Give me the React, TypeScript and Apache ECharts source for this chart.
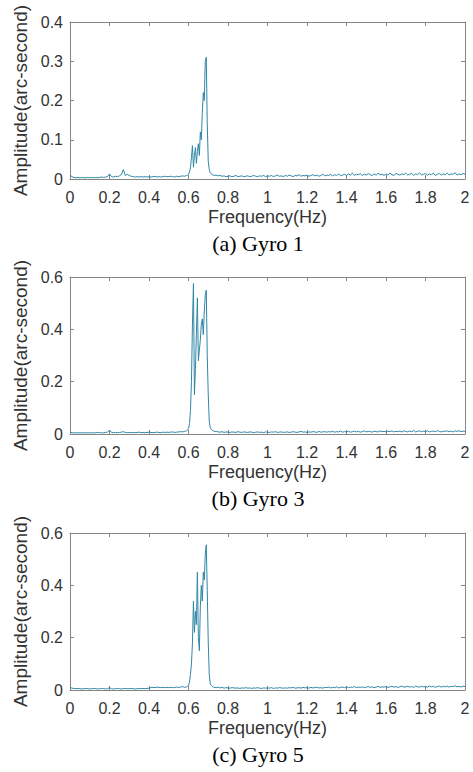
import React, { useEffect, useRef } from "react";
import * as echarts from "echarts";

// Frequency grid (Hz)
const freq = [
  0.00, 0.01, 0.02, 0.03, 0.04, 0.05, 0.06, 0.07, 0.08, 0.09,
  0.10, 0.11, 0.12, 0.13, 0.14, 0.15, 0.16, 0.17, 0.18, 0.19,
  0.20, 0.21, 0.22, 0.23, 0.24, 0.25, 0.26, 0.27, 0.28, 0.29,
  0.30, 0.31, 0.32, 0.33, 0.34, 0.35, 0.36, 0.37, 0.38, 0.39,
  0.40, 0.41, 0.42, 0.43, 0.44, 0.45, 0.46, 0.47, 0.48, 0.49,
  0.50, 0.51, 0.52, 0.53, 0.54, 0.55, 0.56, 0.57, 0.58, 0.59,
  0.595, 0.600, 0.605, 0.610, 0.615, 0.620, 0.625, 0.630, 0.635, 0.640,
  0.645, 0.650, 0.655, 0.660, 0.665, 0.670, 0.675, 0.680, 0.685, 0.690,
  0.695, 0.700, 0.705, 0.710, 0.715, 0.720, 0.725, 0.730,
  0.74, 0.75, 0.76, 0.77, 0.78, 0.79,
  0.80, 0.81, 0.82, 0.83, 0.84, 0.85, 0.86, 0.87, 0.88, 0.89,
  0.90, 0.91, 0.92, 0.93, 0.94, 0.95, 0.96, 0.97, 0.98, 0.99,
  1.00, 1.01, 1.02, 1.03, 1.04, 1.05, 1.06, 1.07, 1.08, 1.09,
  1.10, 1.11, 1.12, 1.13, 1.14, 1.15, 1.16, 1.17, 1.18, 1.19,
  1.20, 1.21, 1.22, 1.23, 1.24, 1.25, 1.26, 1.27, 1.28, 1.29,
  1.30, 1.31, 1.32, 1.33, 1.34, 1.35, 1.36, 1.37, 1.38, 1.39,
  1.40, 1.41, 1.42, 1.43, 1.44, 1.45, 1.46, 1.47, 1.48, 1.49,
  1.50, 1.51, 1.52, 1.53, 1.54, 1.55, 1.56, 1.57, 1.58, 1.59,
  1.60, 1.61, 1.62, 1.63, 1.64, 1.65, 1.66, 1.67, 1.68, 1.69,
  1.70, 1.71, 1.72, 1.73, 1.74, 1.75, 1.76, 1.77, 1.78, 1.79,
  1.80, 1.81, 1.82, 1.83, 1.84, 1.85, 1.86, 1.87, 1.88, 1.89,
  1.90, 1.91, 1.92, 1.93, 1.94, 1.95, 1.96, 1.97, 1.98, 1.99,
  2.00,
];

// Gyro 1 amplitude (arc-second)
const gyro1 = [
  0.010, 0.006, 0.004, 0.003, 0.004, 0.003, 0.004, 0.003, 0.003, 0.004,
  0.003, 0.004, 0.003, 0.004, 0.003, 0.004, 0.005, 0.004, 0.005, 0.006,
  0.013, 0.006, 0.005, 0.007, 0.006, 0.008, 0.011, 0.024, 0.009, 0.012,
  0.009, 0.007, 0.006, 0.005, 0.006, 0.005, 0.006, 0.005, 0.006, 0.005,
  0.006, 0.005, 0.006, 0.007, 0.005, 0.006, 0.005, 0.006, 0.007, 0.006,
  0.006, 0.007, 0.006, 0.005, 0.007, 0.006, 0.007, 0.008, 0.007, 0.009,
  0.010, 0.012, 0.018, 0.030, 0.055, 0.085, 0.030, 0.060, 0.080, 0.040,
  0.070, 0.090, 0.060, 0.120, 0.100, 0.170, 0.220, 0.200, 0.300, 0.310,
  0.140, 0.045, 0.025, 0.016, 0.013, 0.011, 0.010, 0.009,
  0.010, 0.008, 0.009, 0.007, 0.008, 0.006,
  0.007, 0.008, 0.006, 0.007, 0.009, 0.006, 0.007, 0.008, 0.006, 0.007,
  0.008, 0.006, 0.007, 0.009, 0.007, 0.006, 0.008, 0.007, 0.009, 0.006,
  0.008, 0.007, 0.009, 0.006, 0.008, 0.010, 0.007, 0.008, 0.006, 0.009,
  0.007, 0.010, 0.008, 0.006, 0.009, 0.008, 0.011, 0.007, 0.009, 0.008,
  0.010, 0.007, 0.009, 0.011, 0.008, 0.010, 0.007, 0.009, 0.012, 0.008,
  0.010, 0.009, 0.012, 0.008, 0.011, 0.009, 0.013, 0.008, 0.010, 0.012,
  0.009, 0.013, 0.010, 0.015, 0.009, 0.012, 0.011, 0.014, 0.009, 0.012,
  0.010, 0.014, 0.011, 0.009, 0.013, 0.010, 0.015, 0.011, 0.012, 0.009,
  0.013, 0.010, 0.015, 0.011, 0.009, 0.014, 0.012, 0.010, 0.013, 0.011,
  0.015, 0.010, 0.012, 0.014, 0.009, 0.013, 0.011, 0.016, 0.010, 0.012,
  0.014, 0.010, 0.013, 0.011, 0.015, 0.009, 0.012, 0.014, 0.010, 0.013,
  0.011, 0.015, 0.010, 0.013, 0.012, 0.016, 0.010, 0.013, 0.011, 0.014,
  0.012,
];

// Gyro 3 amplitude (arc-second)
const gyro3 = [
  0.008, 0.005, 0.004, 0.005, 0.004, 0.005, 0.004, 0.005, 0.004, 0.005,
  0.004, 0.005, 0.004, 0.005, 0.006, 0.005, 0.004, 0.005, 0.006, 0.007,
  0.015, 0.006, 0.005, 0.006, 0.005, 0.006, 0.007, 0.009, 0.006, 0.005,
  0.006, 0.005, 0.006, 0.005, 0.006, 0.007, 0.005, 0.006, 0.005, 0.006,
  0.007, 0.006, 0.005, 0.006, 0.007, 0.006, 0.005, 0.007, 0.006, 0.007,
  0.006, 0.007, 0.008, 0.006, 0.007, 0.008, 0.009, 0.008, 0.010, 0.012,
  0.015, 0.020, 0.040, 0.090, 0.200, 0.420, 0.575, 0.150, 0.250, 0.380,
  0.520, 0.280, 0.320, 0.360, 0.420, 0.440, 0.380, 0.470, 0.530, 0.550,
  0.300, 0.150, 0.050, 0.025, 0.018, 0.014, 0.012, 0.010,
  0.010, 0.008, 0.007, 0.009, 0.006, 0.008,
  0.007, 0.006, 0.008, 0.007, 0.006, 0.009, 0.007, 0.006, 0.008, 0.007,
  0.006, 0.008, 0.007, 0.005, 0.007, 0.008, 0.006, 0.007, 0.005, 0.008,
  0.007, 0.006, 0.008, 0.007, 0.009, 0.006, 0.007, 0.008, 0.006, 0.007,
  0.008, 0.006, 0.007, 0.009, 0.007, 0.006, 0.008, 0.010, 0.007, 0.008,
  0.006, 0.008, 0.007, 0.009, 0.008, 0.006, 0.010, 0.007, 0.008, 0.009,
  0.007, 0.009, 0.008, 0.010, 0.007, 0.009, 0.008, 0.011, 0.007, 0.009,
  0.008, 0.010, 0.007, 0.009, 0.011, 0.008, 0.010, 0.007, 0.009, 0.012,
  0.008, 0.010, 0.009, 0.007, 0.011, 0.009, 0.008, 0.012, 0.009, 0.010,
  0.008, 0.011, 0.009, 0.012, 0.008, 0.010, 0.009, 0.011, 0.008, 0.012,
  0.010, 0.008, 0.011, 0.009, 0.013, 0.008, 0.010, 0.012, 0.009, 0.011,
  0.009, 0.012, 0.008, 0.010, 0.011, 0.009, 0.013, 0.010, 0.008, 0.011,
  0.010, 0.012, 0.009, 0.011, 0.008, 0.012, 0.010, 0.013, 0.009, 0.011,
  0.010,
];

// Gyro 5 amplitude (arc-second)
const gyro5 = [
  0.010, 0.007, 0.006, 0.005, 0.006, 0.005, 0.004, 0.005, 0.006, 0.005,
  0.004, 0.005, 0.006, 0.005, 0.004, 0.005, 0.006, 0.005, 0.004, 0.005,
  0.009, 0.005, 0.004, 0.005, 0.006, 0.005, 0.004, 0.005, 0.006, 0.005,
  0.005, 0.006, 0.005, 0.004, 0.005, 0.006, 0.005, 0.006, 0.005, 0.006,
  0.007, 0.009, 0.010, 0.009, 0.011, 0.010, 0.009, 0.010, 0.009, 0.010,
  0.009, 0.010, 0.009, 0.010, 0.011, 0.010, 0.011, 0.013, 0.010, 0.012,
  0.014, 0.018, 0.030, 0.060, 0.100, 0.180, 0.340, 0.220, 0.300, 0.250,
  0.450, 0.200, 0.150, 0.320, 0.400, 0.340, 0.450, 0.420, 0.520, 0.555,
  0.380, 0.180, 0.060, 0.025, 0.018, 0.014, 0.011, 0.010,
  0.009, 0.011, 0.008, 0.010, 0.007, 0.009,
  0.008, 0.007, 0.009, 0.008, 0.007, 0.008, 0.006, 0.008, 0.007, 0.009,
  0.007, 0.008, 0.006, 0.008, 0.007, 0.009, 0.007, 0.006, 0.008, 0.007,
  0.008, 0.007, 0.009, 0.006, 0.008, 0.007, 0.009, 0.008, 0.007, 0.008,
  0.007, 0.009, 0.008, 0.010, 0.007, 0.008, 0.009, 0.007, 0.010, 0.008,
  0.009, 0.007, 0.010, 0.008, 0.009, 0.011, 0.008, 0.009, 0.007, 0.010,
  0.009, 0.011, 0.008, 0.010, 0.009, 0.012, 0.008, 0.010, 0.011, 0.009,
  0.012, 0.009, 0.011, 0.010, 0.013, 0.009, 0.011, 0.010, 0.012, 0.009,
  0.011, 0.013, 0.010, 0.012, 0.009, 0.011, 0.014, 0.010, 0.012, 0.011,
  0.013, 0.010, 0.012, 0.014, 0.011, 0.013, 0.010, 0.012, 0.015, 0.011,
  0.012, 0.014, 0.011, 0.013, 0.010, 0.015, 0.012, 0.011, 0.014, 0.012,
  0.013, 0.011, 0.015, 0.012, 0.014, 0.010, 0.013, 0.015, 0.011, 0.014,
  0.012, 0.015, 0.011, 0.014, 0.013, 0.016, 0.012, 0.014, 0.011, 0.015,
  0.013,
];

const xTickLabels = ["0", "0.2", "0.4", "0.6", "0.8", "1", "1.2", "1.4", "1.6", "1.8", "2"];
const yTickLabels1 = ["0", "0.1", "0.2", "0.3", "0.4"];
const yTickLabels2 = ["0", "0.2", "0.4", "0.6"];
const captions = ["(a) Gyro 1", "(b) Gyro 3", "(c) Gyro 5"];
const xName = "Frequency(Hz)";
const yName = "Amplitude(arc-second)";

const panels = [
  { data: gyro1, max: 0.4, interval: 0.1, labels: yTickLabels1 },
  { data: gyro3, max: 0.6, interval: 0.2, labels: yTickLabels2 },
  { data: gyro5, max: 0.6, interval: 0.2, labels: yTickLabels2 },
];

const GRID_TOPS = [22, 277, 533];
const GRID_H = 157;
const GRID_L = 70;
const GRID_W = 395;
const AXIS_COLOR = "#858585";
const TEXT_COLOR = "#333333";
const LINE_COLOR = "#2f86a6";
const SANS = '"Liberation Sans", Arial, sans-serif';
const SERIF = '"Liberation Serif", "Times New Roman", serif';

export default function App() {
  const ref = useRef<HTMLDivElement>(null);

  useEffect(() => {
    if (!ref.current) return;
    const chart = echarts.init(ref.current, undefined, { renderer: "svg" });

    const grid: any[] = [];
    const xAxis: any[] = [];
    const yAxis: any[] = [];
    const series: any[] = [];

    const tickStyle = { inside: true, length: 4, lineStyle: { color: AXIS_COLOR, width: 1 } };
    const lineStyle = { show: true, onZero: false, lineStyle: { color: AXIS_COLOR, width: 1 } };

    panels.forEach((p, i) => {
      grid.push({ left: GRID_L, top: GRID_TOPS[i], width: GRID_W, height: GRID_H, containLabel: false });
      xAxis.push({
        gridIndex: i, type: "value", min: 0, max: 2, interval: 0.2, position: "bottom",
        axisLine: lineStyle, axisTick: tickStyle, splitLine: { show: false },
        axisLabel: {
          fontSize: 16, color: TEXT_COLOR, fontFamily: SANS, margin: 10,
          formatter: (v: number) => xTickLabels[Math.round(v / 0.2)] ?? "",
        },
        name: xName, nameLocation: "middle", nameGap: 29,
        nameTextStyle: { fontSize: 18, color: TEXT_COLOR, fontFamily: SANS },
      });
      xAxis.push({
        gridIndex: i, type: "value", min: 0, max: 2, interval: 0.2, position: "top",
        axisLine: lineStyle, axisTick: tickStyle, splitLine: { show: false },
        axisLabel: { show: false },
      });
      yAxis.push({
        gridIndex: i, type: "value", min: 0, max: p.max, interval: p.interval, position: "left",
        axisLine: lineStyle, axisTick: tickStyle, splitLine: { show: false },
        axisLabel: {
          fontSize: 16, color: TEXT_COLOR, fontFamily: SANS, margin: 7,
          formatter: (v: number) => p.labels[Math.round(v / p.interval)] ?? "",
        },
        name: yName, nameLocation: "middle", nameGap: 35,
        nameTextStyle: { fontSize: 19, color: TEXT_COLOR, fontFamily: SANS },
      });
      yAxis.push({
        gridIndex: i, type: "value", min: 0, max: p.max, interval: p.interval, position: "right",
        axisLine: lineStyle, axisTick: tickStyle, splitLine: { show: false },
        axisLabel: { show: false },
      });
      series.push({
        type: "line",
        xAxisIndex: i * 2,
        yAxisIndex: i * 2,
        data: freq.map((f, k) => [f, p.data[k]]),
        showSymbol: false,
        symbol: "none",
        lineStyle: { color: LINE_COLOR, width: 1 },
        itemStyle: { color: LINE_COLOR },
      });
    });

    const graphic = captions.map((c, i) => ({
      type: "text",
      x: 258,
      y: GRID_TOPS[i] + GRID_H + 64,
      style: {
        text: c,
        fill: "#000",
        font: `22px ${SERIF}`,
        align: "center",
        verticalAlign: "middle",
      },
    }));

    chart.setOption({
      animation: false,
      backgroundColor: "#ffffff",
      grid,
      xAxis,
      yAxis,
      series,
      graphic,
    });

    return () => chart.dispose();
  }, []);

  return (
    <div
      ref={ref}
      style={{ position: "fixed", left: 0, top: 0, width: 473, height: 772, background: "#fff" }}
    />
  );
}
